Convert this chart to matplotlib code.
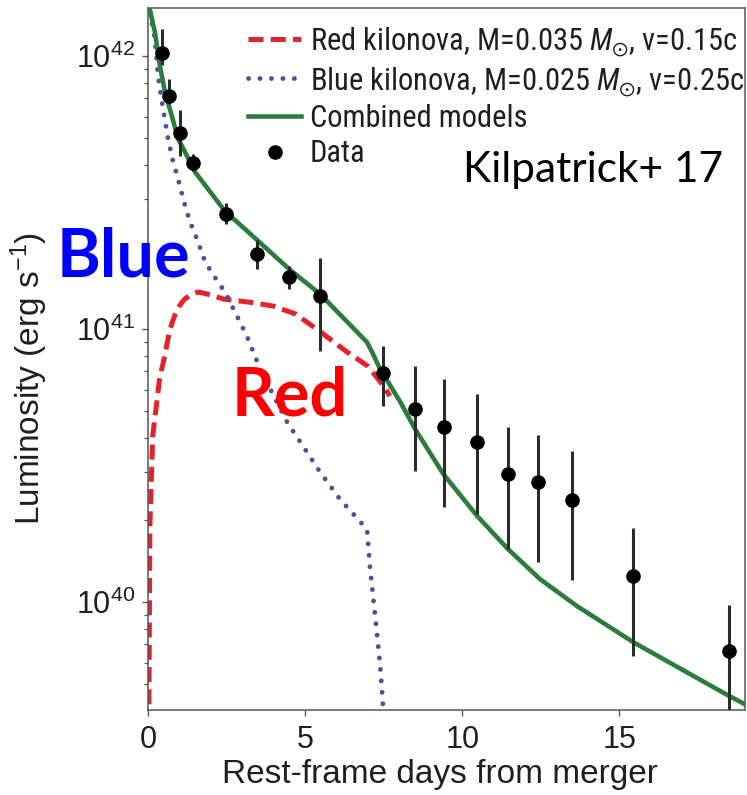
import numpy as np
import matplotlib
matplotlib.use("Agg")
import matplotlib.pyplot as plt
from matplotlib import font_manager as fm
from matplotlib.ticker import LogLocator, NullFormatter

# ---------------- data (log10 of luminosity in erg/s) -------------
data_days = [0.44, 0.66, 1.02, 1.44, 2.47, 3.46, 4.49, 5.48, 7.48, 8.50,
             9.43, 10.48, 11.46, 12.42, 13.50, 15.45, 18.50]
data_log = [42.011, 41.853, 41.718, 41.608, 41.421, 41.275, 41.190, 41.121, 40.839,
            40.707, 40.641, 40.586, 40.469, 40.440, 40.374, 40.095, 39.821]
data_log_hi = [42.099, 41.916, 41.802, 41.641, 41.462, 41.326, 41.231, 41.260, 40.938,
               40.864, 40.817, 40.762, 40.641, 40.612, 40.553, 40.271, 39.989]
data_log_lo = [41.967, 41.824, 41.634, 41.579, 41.385, 41.220, 41.147, 40.919, 40.718,
               40.480, 40.348, 40.322, 40.194, 40.147, 40.081, 39.802, 39.550]

green_days = [0.0, 0.22, 0.38, 0.54, 0.76, 0.96, 1.18, 1.50, 1.91, 2.45, 3.09, 4.04,
              4.49, 5.48, 6.97, 7.13, 7.39, 8.03, 8.50, 9.40, 10.48, 11.46, 12.48,
              13.66, 15.45, 18.50, 19.0]
green_log = [42.20, 42.088, 41.963, 41.868, 41.780, 41.696, 41.648, 41.575, 41.513,
             41.432, 41.366, 41.267, 41.220, 41.128, 40.952, 40.916, 40.853, 40.733,
             40.634, 40.469, 40.315, 40.194, 40.084, 39.985, 39.853, 39.656, 39.626]

red_days = [0.0, 0.03, 0.06, 0.15, 0.38, 0.48, 0.70, 0.85, 1.00, 1.15, 1.35, 1.60,
            2.00, 2.40, 3.20, 4.00, 4.70, 5.50, 6.30, 7.00, 7.50, 7.70]
red_log = [39.30, 39.645, 40.278, 40.608, 40.828, 40.874, 41.000, 41.050, 41.085,
           41.108, 41.125, 41.136, 41.125, 41.110, 41.099, 41.084, 41.055, 40.989,
           40.919, 40.864, 40.791, 40.755]

blue_days = [0.0, 0.22, 0.32, 0.48, 0.64, 0.80, 0.96, 1.18, 1.34, 1.56, 1.82, 2.23,
             2.45, 3.15, 3.57, 4.43, 5.48, 6.11, 6.97, 7.07, 7.23, 7.39, 7.48, 7.55]
blue_log = [42.20, 42.062, 41.927, 41.806, 41.696, 41.612, 41.549, 41.451, 41.392,
            41.330, 41.245, 41.172, 41.136, 40.974, 40.853, 40.659, 40.476, 40.377,
            40.267, 40.121, 39.949, 39.766, 39.619, 39.425]

x_ticks = [0, 5, 10, 15]
legend_labels = [r"Red kilonova, M=0.035 $M_{\odot}$, v=0.15c",
                 r"Blue kilonova, M=0.025 $M_{\odot}$, v=0.25c",
                 "Combined models",
                 "Data"]

# ---------------- fonts ----------------
names = {f.name for f in fm.fontManager.ttflist}
cond = "Roboto Condensed" if "Roboto Condensed" in names else (
    "Liberation Sans Narrow" if "Liberation Sans Narrow" in names else "Liberation Sans")
main = "Liberation Sans"

plt.rcParams["font.family"] = [main, "DejaVu Sans"]
plt.rcParams["mathtext.fontset"] = "custom"
plt.rcParams["mathtext.rm"] = main
plt.rcParams["mathtext.it"] = cond + ":italic"
plt.rcParams["mathtext.sf"] = main
plt.rcParams["mathtext.fallback"] = "stixsans"

text_color = "#1f1f1f"
spine_color = "#555555"

fig = plt.figure(figsize=(7.47, 7.95), dpi=100)
ax = fig.add_axes([148 / 747, 1 - 710 / 795, 597 / 747, 702 / 795])

ax.plot(red_days, 10 ** np.array(red_log), color="#e3222b", lw=3.6,
        linestyle=(0, (3.0, 1.45)), label=legend_labels[0], zorder=2)
ax.plot(blue_days, 10 ** np.array(blue_log), color="#4f509c", lw=3.5,
        linestyle=(0, (0.01, 2.35)), dash_capstyle="round", label=legend_labels[1], zorder=2)
ax.plot(green_days, 10 ** np.array(green_log), color="#2c7c3c", lw=3.3,
        label=legend_labels[2], zorder=3)

L = 10 ** np.array(data_log)
lo = L - 10 ** np.array(data_log_lo)
hi = 10 ** np.array(data_log_hi) - L
ax.errorbar(data_days, L, yerr=[lo, hi], fmt="none", ecolor="#2b2b2b",
            elinewidth=2.2, capsize=0, zorder=4)
ax.plot(data_days, L, "o", color="black", markersize=9.5, label=legend_labels[3], zorder=5)

ax.set_yscale("log")
ax.set_xlim(0, 19.0)
ax.set_ylim(10 ** 39.605, 10 ** 42.176)
ax.set_xticks(x_ticks)
ax.yaxis.set_major_locator(LogLocator(base=10, numticks=10))
ax.yaxis.set_minor_locator(LogLocator(base=10, subs=np.arange(2, 10), numticks=20))
ax.yaxis.set_minor_formatter(NullFormatter())

for s in ax.spines.values():
    s.set_color(spine_color)
    s.set_linewidth(1.1)
ax.tick_params(axis="both", which="major", direction="out", length=4.5, width=1.0,
               colors=spine_color, labelcolor=text_color, labelsize=22)
ax.tick_params(axis="x", which="major", pad=6)
ax.tick_params(axis="y", which="major", pad=5)
ax.tick_params(axis="y", which="minor", direction="out", length=2.8, width=0.9,
               colors=spine_color)

ax.set_xlabel("Rest-frame days from merger", fontsize=24, color=text_color)
ax.set_ylabel(r"Luminosity (erg s$^{-1}$)", fontsize=24, color=text_color)
ax.xaxis.set_label_coords(0.489, -0.0698)
ax.yaxis.set_label_coords(-0.164, 0.472)

leg = ax.legend(loc="upper left", bbox_to_anchor=(0.1675, 0.975), frameon=False,
                prop={"family": [cond, "DejaVu Sans"], "size": 22},
                handlelength=1.75, handletextpad=0.27, labelspacing=0.21,
                borderpad=0, borderaxespad=0, labelcolor=text_color)

fig.text(463 / 747, 1 - 182 / 795, "Kilpatrick+ 17", fontsize=30.5,
         family=["Lato", "DejaVu Sans"], color="black", va="baseline", ha="left")
fig.text(57 / 747, 1 - 277 / 795, "Blue", fontsize=48, family=["Lato", "DejaVu Sans"],
         fontweight="bold", color="#0000ff", va="baseline", ha="left", zorder=10)
fig.text(232 / 747, 1 - 416 / 795, "Red", fontsize=48, family=["Lato", "DejaVu Sans"],
         fontweight="bold", color="#ff0000", va="baseline", ha="left", zorder=10)

fig.savefig("out.png", dpi=100)
